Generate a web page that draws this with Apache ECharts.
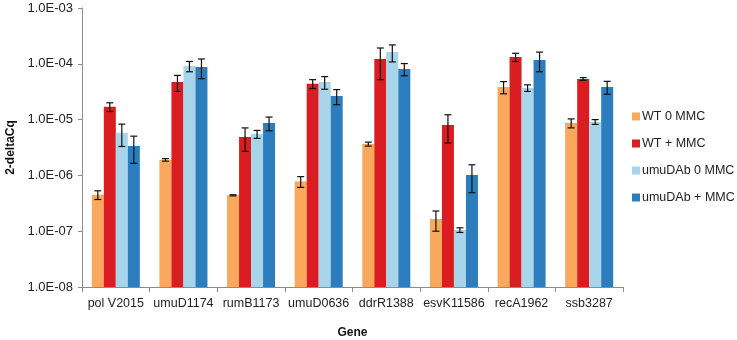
<!DOCTYPE html>
<html lang="en">
<head>
    <meta charset="UTF-8">
    <title>2-deltaCq by gene</title>
    <script src="https://cdn.jsdelivr.net/npm/echarts@6/dist/echarts.min.js"></script>
    <style>
        html, body { margin: 0; padding: 0; background: #fff; }
        #box { width: 737px; height: 340px; }
    </style>
</head>
<body>
    <div id="box"></div>
    <script>
        // data
        var genes = ['pol V2015', 'umuD1174', 'rumB1173', 'umuD0636', 'ddrR1388', 'esvK11586', 'recA1962', 'ssb3287'];
        var seriesNames = ['WT 0 MMC', 'WT + MMC', 'umuDAb 0 MMC', 'umuDAb + MMC'];
        var colors = ['#FAA85C', '#D91D21', '#A8D5EA', '#2C7DBD'];

        var wt0      = [4.5e-7, 1.9e-6, 4.4e-7, 7.8e-7, 3.65e-6, 1.65e-7, 3.85e-5, 8.7e-6];
        var wtMMC    = [1.7e-5, 4.7e-5, 4.9e-6, 4.4e-5, 1.22e-4, 8.0e-6, 1.32e-4, 5.35e-5];
        var umu0     = [5.8e-6, 9.1e-5, 5.5e-6, 4.7e-5, 1.63e-4, 1.05e-7, 3.7e-5, 9.1e-6];
        var umuMMC   = [3.35e-6, 8.8e-5, 8.7e-6, 2.65e-5, 8.1e-5, 1.02e-6, 1.17e-4, 3.85e-5];

        var wt0Err    = [0.8e-7, 0.1e-6, 0.1e-7, 1.7e-7, 0.3e-6, 0.65e-7, 0.95e-5, 1.6e-6];
        var wtMMCErr  = [0.3e-5, 1.5e-5, 2.2e-6, 0.8e-5, 7e-5, 4.2e-6, 2.2e-5, 0.3e-5];
        var umu0Err   = [2.5e-6, 1.9e-5, 0.9e-6, 1.2e-5, 5.5e-5, 0.1e-7, 0.5e-5, 0.9e-6];
        var umuMMCErr = [1.7e-6, 3.4e-5, 2.4e-6, 0.8e-5, 2e-5, 5.3e-7, 4.5e-5, 1.0e-5];

        var values = [wt0, wtMMC, umu0, umuMMC];
        var errors = [wt0Err, wtMMCErr, umu0Err, umuMMCErr];

        var yMin = 1e-8, yMax = 1e-3;
        var groupRatio = 0.71; // share of the category taken by the 4 bars

        function expLabel(v) {
            var e = Math.round(Math.log10(v));
            return '1.0E' + (e < 0 ? '-' : '+') + String(Math.abs(e)).padStart(2, '0');
        }

        var myChart = echarts.init(document.getElementById('box'));

        // bars are drawn as custom rects so they grow up from the axis floor (1E-08)
        var series = [];
        seriesNames.forEach(function (name, i) {
            series.push({
                name: name,
                type: 'custom',
                itemStyle: { color: colors[i] },
                encode: { x: 0, y: 1 },
                data: values[i].map(function (v, k) { return [k, v, errors[i][k]]; }),
                renderItem: function (params, api) {
                    var cat = api.value(0);
                    var v = api.value(1);
                    var err = api.value(2);
                    var catW = api.size([1, 0])[0];
                    var barW = catW * groupRatio / 4;
                    var x0 = -catW * groupRatio / 2 + barW * i;
                    var top = api.coord([cat, v]);
                    var base = api.coord([cat, yMin]);
                    var hi = api.coord([cat, v + err]);
                    var lo = api.coord([cat, v - err]);
                    var x = top[0] + x0 + barW / 2;
                    var cap = 3.5;
                    var st = { stroke: '#111', lineWidth: 1.2 };
                    return {
                        type: 'group',
                        children: [
                            { type: 'rect', shape: { x: top[0] + x0, y: top[1], width: barW, height: base[1] - top[1] }, style: { fill: colors[i] } },
                            { type: 'line', z2: 5, shape: { x1: x, y1: hi[1], x2: x, y2: lo[1] }, style: st },
                            { type: 'line', z2: 5, shape: { x1: x - cap, y1: hi[1], x2: x + cap, y2: hi[1] }, style: st },
                            { type: 'line', z2: 5, shape: { x1: x - cap, y1: lo[1], x2: x + cap, y2: lo[1] }, style: st }
                        ]
                    };
                }
            });
        });

        var option = {
            animation: false,
            backgroundColor: '#fff',
            textStyle: { fontFamily: 'Liberation Sans, Arial, sans-serif' },
            grid: { left: 82, right: 114, top: 8, bottom: 53, outerBoundsMode: 'none' },
            legend: {
                data: seriesNames.map(function (n) { return { name: n, icon: 'rect' }; }),
                orient: 'vertical',
                left: 627,
                top: 105,
                itemWidth: 8,
                itemHeight: 8,
                itemGap: 14,
                textStyle: { fontSize: 12.5, color: '#222', padding: [0, 0, 0, -3] }
            },
            xAxis: {
                type: 'category',
                data: genes,
                name: 'Gene',
                nameLocation: 'middle',
                nameGap: 40,
                nameTextStyle: { fontWeight: 'bold', fontSize: 12, color: '#111' },
                axisLine: { lineStyle: { color: '#8c8c8c' } },
                axisTick: { show: true, length: 5, lineStyle: { color: '#8c8c8c' } },
                axisLabel: { interval: 0, fontSize: 12.5, color: '#222', margin: 10 }
            },
            yAxis: {
                type: 'log',
                logBase: 10,
                min: yMin,
                max: yMax,
                name: '2-deltaCq',
                nameLocation: 'middle',
                nameGap: 65,
                nameTextStyle: { fontWeight: 'bold', fontSize: 12, color: '#111' },
                splitLine: { show: false },
                axisLine: { show: true, lineStyle: { color: '#8c8c8c' } },
                axisTick: { show: true, length: 4, lineStyle: { color: '#8c8c8c' } },
                axisLabel: { fontSize: 13, color: '#222', margin: 9, formatter: expLabel }
            },
            series: series
        };

        myChart.setOption(option);
    </script>
</body>
</html>
